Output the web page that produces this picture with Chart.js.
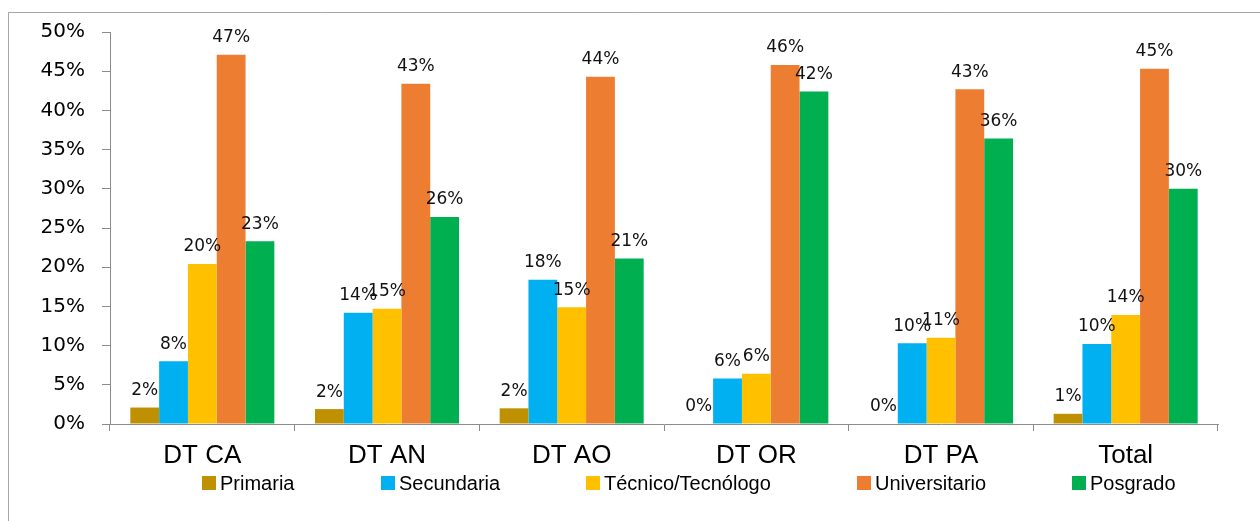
<!DOCTYPE html>
<html lang="es">
<head>
  <meta charset="UTF-8" />
  <title>Nivel educativo por DT</title>
  <script src="https://cdn.jsdelivr.net/npm/chart.js"></script>
  <style>
    body {
      margin: 0;
      background: #fff;
    }

    .wrap {
      position: relative;
      width: 1260px;
      height: 521px;
    }
  </style>
</head>
<body>
  <div class="wrap">
    <canvas id="chart" width="1260" height="521"></canvas>
  </div>

  <script>
    // data (percent)
    const categories = ['DT CA', 'DT AN', 'DT AO', 'DT OR', 'DT PA', 'Total'];
    const primaria = [2.1, 1.9, 2.0, 0, 0, 1.3];
    const secundaria = [8.0, 14.2, 18.4, 5.8, 10.3, 10.2];
    const tecnico = [20.4, 14.7, 14.9, 6.4, 11.0, 13.9];
    const universitario = [47.1, 43.4, 44.3, 45.8, 42.7, 45.3];
    const posgrado = [23.3, 26.4, 21.1, 42.4, 36.4, 30.0];
    const yTicks = [0, 5, 10, 15, 20, 25, 30, 35, 40, 45, 50];

    // legend slots (left edge of each marker)
    const legendX = [202, 381, 586, 857, 1072];

    const axisGrey = '#8c8c8c';

    const framePlugin = {
      id: 'frame',
      beforeDraw(chart) {
        const c = chart.ctx;
        c.save();
        c.strokeStyle = '#a6a6a6';
        c.lineWidth = 1;
        c.beginPath();
        c.moveTo(8.5, 521);
        c.lineTo(8.5, 12.5);
        c.lineTo(1260, 12.5);
        c.stroke();
        c.restore();
      }
    };

    const labelPlugin = {
      id: 'barLabels',
      afterDatasetsDraw(chart) {
        const c = chart.ctx;
        c.save();
        c.font = '17px "DejaVu Sans"';
        c.fillStyle = '#111';
        c.textAlign = 'center';
        c.textBaseline = 'middle';
        chart.data.datasets.forEach((ds, i) => {
          chart.getDatasetMeta(i).data.forEach((bar, j) => {
            c.fillText(Math.round(ds.data[j]) + '%', bar.x, bar.y - 17);
          });
        });
        c.restore();
      }
    };

    const legendPlugin = {
      id: 'customLegend',
      afterDraw(chart) {
        const c = chart.ctx;
        c.save();
        c.font = '20px "Liberation Sans"';
        c.textBaseline = 'middle';
        chart.data.datasets.forEach((ds, i) => {
          const x = legendX[i];
          c.fillStyle = ds.backgroundColor;
          c.fillRect(x, 476, 14, 14);
          c.fillStyle = '#000';
          c.fillText(ds.label, x + 18, 484);
        });
        c.restore();
      }
    };

    function makeSet(label, data, color) {
      return {
        label: label,
        data: data,
        backgroundColor: color,
        borderWidth: 0,
        categoryPercentage: 0.78,
        barPercentage: 1
      };
    }

    new Chart(document.getElementById('chart'), {
      type: 'bar',
      data: {
        labels: categories,
        datasets: [
          makeSet('Primaria', primaria, '#BF9000'),
          makeSet('Secundaria', secundaria, '#00B0F0'),
          makeSet('Técnico/Tecnólogo', tecnico, '#FFC000'),
          makeSet('Universitario', universitario, '#ED7D31'),
          makeSet('Posgrado', posgrado, '#00B050')
        ]
      },
      options: {
        responsive: false,
        animation: false,
        layout: {
          padding: { left: 0, right: 42, top: 32, bottom: 0 }
        },
        plugins: {
          legend: { display: false },
          tooltip: { enabled: false }
        },
        scales: {
          x: {
            afterFit(scale) { scale.height = 97; },
            grid: {
              offset: true,
              drawOnChartArea: false,
              drawTicks: true,
              tickLength: 7,
              color: axisGrey
            },
            border: { display: true, color: axisGrey },
            ticks: {
              color: '#000',
              padding: 9,
              font: { family: '"Liberation Sans"', size: 26 }
            }
          },
          y: {
            min: 0,
            max: 50,
            afterFit(scale) { scale.width = 110; },
            afterBuildTicks(scale) {
              scale.ticks = yTicks.map(v => ({ value: v }));
            },
            grid: {
              drawOnChartArea: false,
              drawTicks: true,
              tickLength: 8,
              color: axisGrey
            },
            border: { display: true, color: axisGrey },
            ticks: {
              color: '#000',
              padding: 17,
              font: { family: '"DejaVu Sans"', size: 20 },
              callback: v => v + '%'
            }
          }
        }
      },
      plugins: [framePlugin, labelPlugin, legendPlugin]
    });
  </script>
</body>
</html>
